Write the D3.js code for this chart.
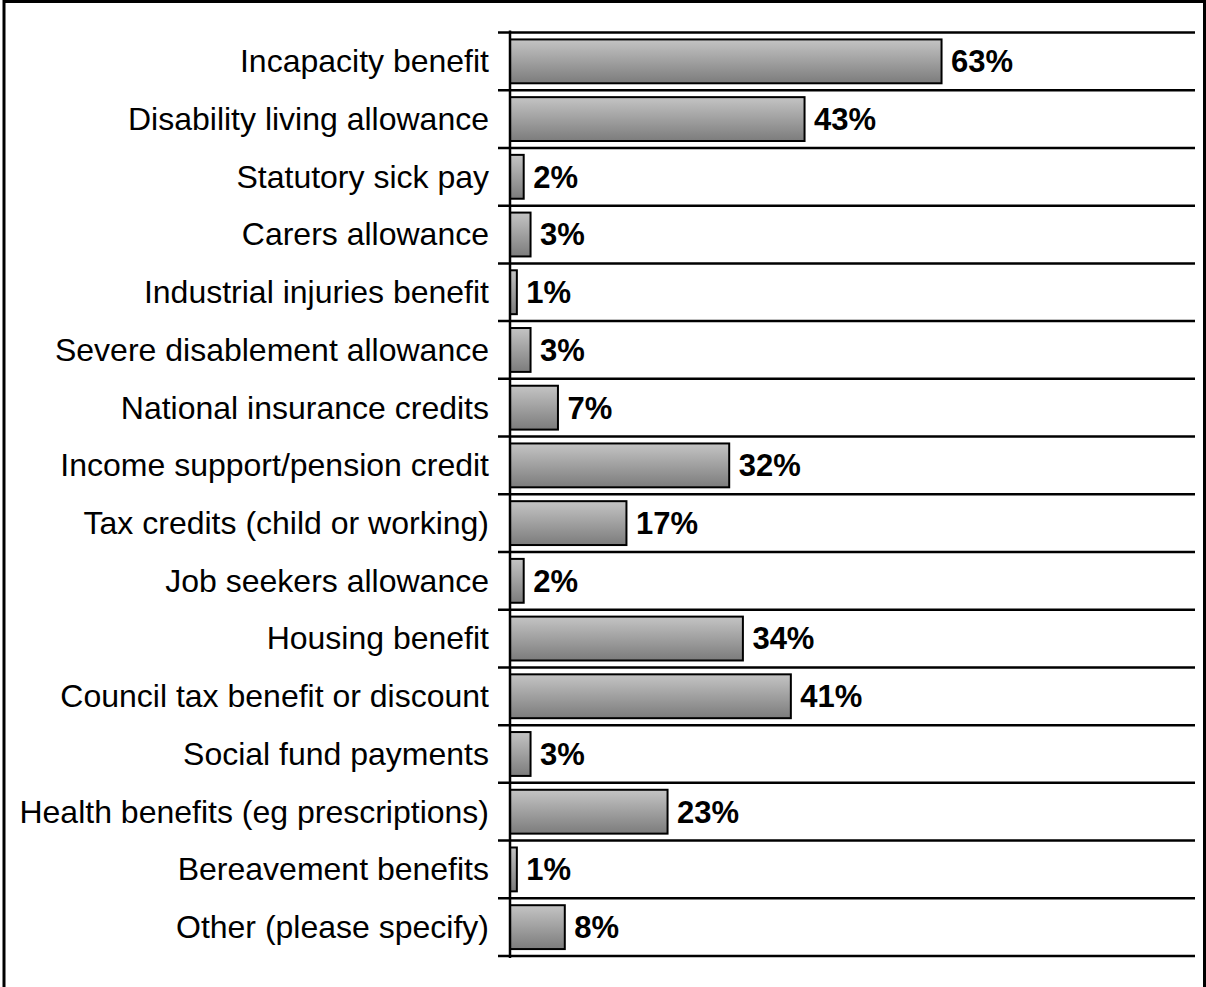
<!DOCTYPE html>
<html>
<head>
<meta charset="utf-8">
<script src="https://cdn.jsdelivr.net/npm/d3@7"></script>
<style>
  body { margin: 0; background: #fff; }
  text { font-family: Arial, "Liberation Sans", sans-serif; }
</style>
</head>
<body>
<script>
// benefit categories, top to bottom
var categories = [
  "Incapacity benefit",
  "Disability living allowance",
  "Statutory sick pay",
  "Carers allowance",
  "Industrial injuries benefit",
  "Severe disablement allowance",
  "National insurance credits",
  "Income support/pension credit",
  "Tax credits (child or working)",
  "Job seekers allowance",
  "Housing benefit",
  "Council tax benefit or discount",
  "Social fund payments",
  "Health benefits (eg prescriptions)",
  "Bereavement benefits",
  "Other (please specify)"
]
// percentage receiving
var values = [63, 43, 2, 3, 1, 3, 7, 32, 17, 2, 34, 41, 3, 23, 1, 8]
var xDomain = [0, 100]

var w = 1206
var h = 987
var margins = {left: 510, right: 11, upper: 32.5, lower: 31}

var svg = d3.select("body")
            .append("svg")
            .attr("width", w)
            .attr("height", h)

// gradient for the bars
var grad = svg.append("defs")
              .append("linearGradient")
              .attr("id", "barfill")
              .attr("x1", 0).attr("y1", 0)
              .attr("x2", 0).attr("y2", 1)
grad.append("stop").attr("offset", "0%").attr("stop-color", "#c4c4c4")
grad.append("stop").attr("offset", "100%").attr("stop-color", "#7c7c7c")

// outer frame
svg.append("rect")
   .attr("x", 4)
   .attr("y", 1.5)
   .attr("width", 1200.5)
   .attr("height", 995)
   .attr("fill", "none")
   .attr("stroke", "#000")
   .attr("stroke-width", 3)

var xScale = d3.scaleLinear()
               .domain(xDomain)
               .range([margins.left, w - margins.right])

var yScale = d3.scaleBand()
               .domain(categories)
               .range([margins.upper, h - margins.lower])
               .paddingInner(0.24)
               .paddingOuter(0.12)

var step = yScale.step()

// horizontal gridlines at category boundaries
var bounds = d3.range(categories.length + 1)
svg.selectAll(".grid")
   .data(bounds)
   .enter()
   .append("line")
   .attr("class", "grid")
   .attr("x1", margins.left - 12)
   .attr("x2", w - margins.right)
   .attr("y1", function(d) { return margins.upper + d * step })
   .attr("y2", function(d) { return margins.upper + d * step })
   .attr("stroke", "#000")
   .attr("stroke-width", 2.5)

// bars
svg.selectAll(".bar")
   .data(values)
   .enter()
   .append("rect")
   .attr("class", "bar")
   .attr("x", xScale(0))
   .attr("y", function(d, i) { return yScale(categories[i]) })
   .attr("width", function(d) { return xScale(d) - xScale(0) })
   .attr("height", yScale.bandwidth())
   .attr("fill", "url(#barfill)")
   .attr("stroke", "#000")
   .attr("stroke-width", 2)

// y axis line
svg.append("line")
   .attr("x1", xScale(0))
   .attr("x2", xScale(0))
   .attr("y1", margins.upper - 2)
   .attr("y2", h - margins.lower + 2)
   .attr("stroke", "#000")
   .attr("stroke-width", 2.5)

// category labels
svg.selectAll(".label")
   .data(categories)
   .enter()
   .append("text")
   .attr("class", "label")
   .attr("x", margins.left - 21)
   .attr("y", function(d) { return yScale(d) + yScale.bandwidth() / 2 })
   .attr("dy", "0.34em")
   .attr("text-anchor", "end")
   .style("font-size", "32px")
   .text(function(d) { return d })

// value labels
svg.selectAll(".val")
   .data(values)
   .enter()
   .append("text")
   .attr("class", "val")
   .attr("x", function(d) { return xScale(d) + 9.5 })
   .attr("y", function(d, i) { return yScale(categories[i]) + yScale.bandwidth() / 2 })
   .attr("dy", "0.35em")
   .style("font-size", "31px")
   .style("font-weight", "bold")
   .text(function(d) { return d + "%" })
</script>
</body>
</html>
